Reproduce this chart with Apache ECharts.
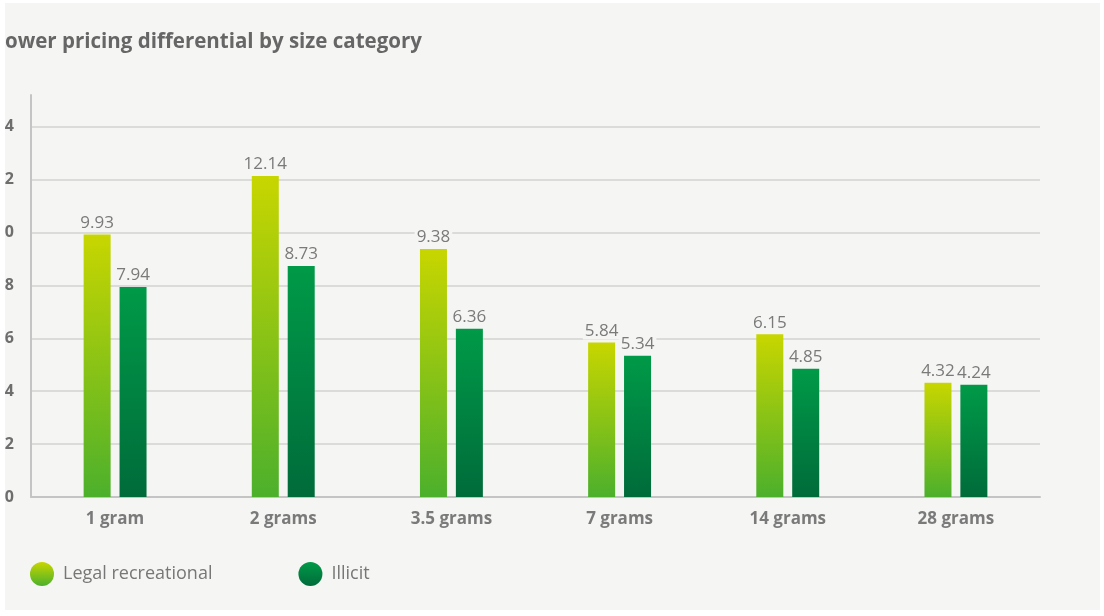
<!DOCTYPE html>
<html>
<head>
<meta charset="utf-8">
<script src="https://cdn.jsdelivr.net/npm/echarts@6/dist/echarts.min.js"></script>
<style>
html,body{margin:0;padding:0;background:#ffffff;width:1104px;height:616px;overflow:hidden;}
#chart{position:absolute;left:5px;top:3px;width:1095px;height:607px;background:#f5f5f3;}
</style>
</head>
<body>
<div id="chart"></div>
<script>
const categories = ['1 gram', '2 grams', '3.5 grams', '7 grams', '14 grams', '28 grams'];
const legalRecreational = [9.93, 12.14, 9.38, 5.84, 6.15, 4.32];
const illicit = [7.94, 8.73, 6.36, 5.34, 4.85, 4.24];
const seriesNames = ['Legal recreational', 'Illicit'];
const titleText = 'ower pricing differential by size category';

const chart = echarts.init(document.getElementById('chart'));
const font = '"Open Sans", "Noto Sans", sans-serif';
const labelStyle = {
  show: true,
  position: 'top',
  distance: 3,
  fontFamily: font,
  fontSize: 17,
  color: '#7a7a7a',
  backgroundColor: '#f5f5f3',
  padding: [0, 2, 0, 2],
  formatter: p => p.value.toFixed(2)
};
function grad(top, bottom) {
  return new echarts.graphic.LinearGradient(0, 0, 0, 1, [
    { offset: 0, color: top },
    { offset: 1, color: bottom }
  ]);
}
chart.setOption({
  animation: false,
  backgroundColor: '#f5f5f3',
  textStyle: { fontFamily: font },
  title: {
    text: titleText,
    left: 0,
    top: 29,
    padding: 0,
    textStyle: { fontFamily: font, fontSize: 20.5, fontWeight: 'bold', color: '#666666' }
  },
  legend: {
    left: 20,
    top: 554,
    itemWidth: 24,
    itemHeight: 24,
    itemGap: 86,
    icon: 'circle',
    textStyle: { fontFamily: font, fontSize: 18, color: '#777777', padding: [0, 0, 0, 4] },
    data: seriesNames
  },
  grid: { left: 26, right: 60, top: 92, bottom: 113, containLabel: false, outerBoundsMode: 'none' },
  xAxis: {
    type: 'category',
    data: categories,
    axisLine: { lineStyle: { color: '#c4c4c4', width: 2 } },
    axisTick: { show: false },
    axisLabel: { fontFamily: font, fontSize: 17, fontWeight: 'bold', color: '#7a7a7a', margin: 14 }
  },
  yAxis: {
    type: 'value',
    min: 0,
    max: 15.2,
    interval: 2,
    axisLine: { show: true, lineStyle: { color: '#c4c4c4', width: 2 } },
    axisTick: { show: false },
    axisLabel: { showMaxLabel: false, fontFamily: font, fontSize: 16, fontWeight: 'bold', color: '#6e6e6e', margin: 17 },
    splitLine: { showMaxLine: false, lineStyle: { color: '#d2d2d2', width: 1.5 } }
  },
  series: [
    {
      name: seriesNames[0],
      type: 'bar',
      data: legalRecreational,
      barWidth: 27,
      barGap: '33%',
      itemStyle: { color: grad('#c8d600', '#4cb02c') },
      label: labelStyle
    },
    {
      name: seriesNames[1],
      type: 'bar',
      data: illicit,
      barWidth: 27,
      barGap: '33%',
      itemStyle: { color: grad('#009a48', '#006b3a') },
      label: labelStyle
    }
  ]
});
</script>
</body>
</html>
